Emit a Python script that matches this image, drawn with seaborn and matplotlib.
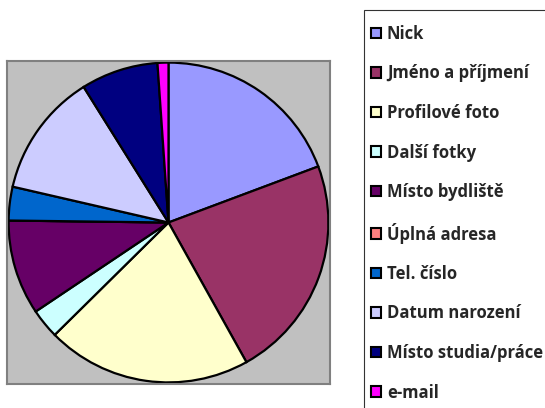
import matplotlib
matplotlib.use("Agg")
import matplotlib.pyplot as plt
from matplotlib.patches import Patch, Rectangle
import seaborn as sns

sns.set_style("white")
plt.rcParams['font.family'] = ['Open Sans', 'DejaVu Sans']

labels = ['Nick', 'Jméno a příjmení', 'Profilové foto', 'Další fotky',
          'Místo bydliště', 'Úplná adresa', 'Tel. číslo', 'Datum narození',
          'Místo studia/práce', 'e-mail']
shares = [19.3, 22.6, 20.7, 3.0, 9.6, 0.0, 3.4, 12.5, 7.8, 1.1]
colors = ['#9999FF', '#993366', '#FFFFCC', '#CCFFFF', '#660066',
          '#FF8080', '#0066CC', '#CCCCFF', '#000080', '#FF00FF']

W, H = 545, 408
fig = plt.figure(figsize=(W / 100, H / 100), dpi=100)

# plot area (grey box)
ax = fig.add_axes([7 / W, (H - 384) / H, 323 / W, 323 / H])
ax.pie(shares, colors=colors, startangle=90, counterclock=False,
       wedgeprops=dict(edgecolor='black', linewidth=1.6))
ax.set_frame_on(True)
ax.set_facecolor('#C0C0C0')
for s in ax.spines.values():
    s.set_visible(True)
    s.set_color('#808080')
    s.set_linewidth(1.5)
ax.set_xlim(-1.01, 1.01)
ax.set_ylim(-1.01, 1.01)
ax.set_aspect('equal')
ax.set_xticks([])
ax.set_yticks([])

# legend box runs off the right and bottom edge in the original
fig.add_artist(Rectangle((364 / W, -0.2), 0.5, 1.2 - 10 / H,
                         transform=fig.transFigure, facecolor='white',
                         edgecolor='#333333', linewidth=0.8))

handles = [Patch(facecolor=c, edgecolor='black', linewidth=1.5) for c in colors]
leg = fig.legend(handles, labels, loc='upper left',
                 bbox_to_anchor=(371 / W, 1 - 25 / H),
                 prop=dict(weight='bold', size=12),
                 handlelength=0.6, handleheight=0.6, handletextpad=0.35,
                 labelspacing=1.29, borderpad=0, borderaxespad=0,
                 frameon=False)

fig.savefig('out.png', dpi=100)
